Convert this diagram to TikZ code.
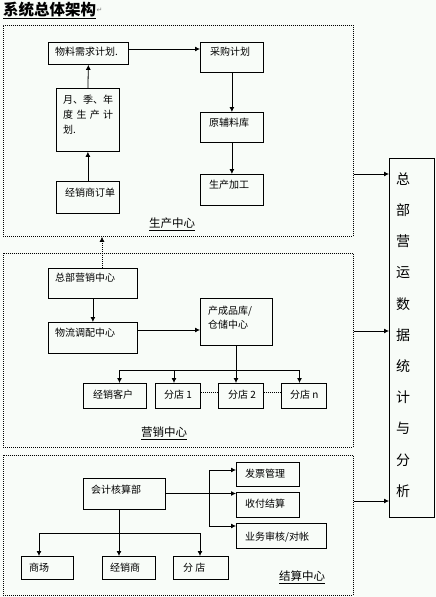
\documentclass[tikz,border=0pt]{standalone}
\usepackage{fontspec}
\setmainfont{Noto Sans CJK SC}
\newfontfamily\dejavu{DejaVu Sans}
\usetikzlibrary{arrows.meta}
\definecolor{bg}{RGB}{248,252,248}
\newcommand\bx[8]{%
  \node[box, minimum width={#4-#2}, minimum height={#5-#3}] (#1) at (#2,#3) {};
  \node[txt] (#1t) at ([xshift=#6pt,yshift=-#7pt]#1.north west) {#8};}
\begin{document}
\begin{tikzpicture}[x=1pt,y=-1pt,
  box/.style={draw, line width=0.8pt, inner sep=0pt, anchor=north west},
  sec/.style={draw, dash pattern=on 1pt off 1pt, line width=0.8pt, inner sep=0pt, anchor=north west},
  txt/.style={font=\fontsize{10}{14}\selectfont, inner sep=0pt, anchor=west},
  lbl/.style={font=\fontsize{11.5}{14}\selectfont, inner sep=0pt},
  arr/.style={-{Latex[length=5pt,width=5pt]}, line width=0.8pt},
  ln/.style={line width=0.8pt},
  dot/.style={dash pattern=on 1pt off 1pt, line width=0.8pt}]
\fill[bg] (0,0) rectangle (436,597);
\useasboundingbox (0,0) rectangle (436,597);

% title
\node[inner sep=0pt, anchor=west, font=\fontsize{15.5}{18}\selectfont\bfseries] (title) at (3,10.5) {\underline{系统总体架构}};
\node[inner sep=0pt, anchor=west, font=\dejavu\fontsize{7}{8}\selectfont, text=gray] (pm) at (title.east) {↵};

% sections
\node[sec, minimum width=350, minimum height=211] (sec1) at (3,25) {};
\node[sec, minimum width=350, minimum height=194] (sec2) at (3,253) {};
\node[sec, minimum width=350, minimum height=140] (sec3) at (3,455) {};

% section 1
\bx{wl}{48}{42}{128}{64}{7}{10}{物料需求计划.}
\bx{cg}{200}{42}{263}{72}{10}{10}{采购计划}
\bx{yf}{200}{112}{263}{142}{9}{11}{原辅料库}
\bx{sc}{200}{174}{263}{205}{9}{11}{生产加工}
\node[box, minimum width=63, minimum height=63] (jh) at (56,88) {};
\node[txt, align=left, font=\fontsize{10}{15}\selectfont] (jht) at (63,115) {月、季、年\\\makebox[50pt][l]{度\hfill 生\hfill 产\hfill 计}\\划.};
\bx{dd}{56}{181}{119}{213}{9}{12}{经销商订单}
\node[lbl] (l1) at (172,224) {\underline{生产中心}};

\draw[arr] (dd.north) -- (jh.south);
\draw[arr] (jh.north) -- (wl.south);
\coordinate (y49) at (0,49);
\draw[arr] (wl.east |- y49) -- (cg.west |- y49);
\draw[arr] (cg.south) -- (yf.north);
\draw[arr] (yf.south) -- (sc.north);

% section 2
\bx{zb}{48}{268}{137}{298}{7}{10}{总部营销中心}
\bx{wd}{48}{322}{137}{353}{7}{11}{物流调配中心}
\node[box, minimum width=72, minimum height=47] (cp) at (200,298) {};
\node[txt, align=left, font=\fontsize{10}{14}\selectfont] (cpt) at (208,318) {产成品库/\\仓储中心};
\bx{jk}{83}{383}{146}{408}{10}{12}{经销客户}
\bx{f1}{155}{383}{200}{408}{9}{12}{分店 1}
\bx{f2}{218}{383}{263}{408}{10}{12}{分店 2}
\bx{fn}{281}{383}{326}{408}{9}{12}{分店 n}
\node[lbl] (l2) at (164,433) {\underline{营销中心}};

\draw[arr] (zb.south) -- (wd.north);
\coordinate (y330) at (0,330);
\draw[arr] (wd.east |- y330) -- (cp.west |- y330);
\coordinate (a1) at (119.5,370);
\coordinate (a2) at (174,370);
\coordinate (a3) at (236,370);
\coordinate (a4) at (299.5,370);
\draw[ln] (cp.south -| a3) -- (a3);
\draw[ln] (a1) -- (a4);
\draw[arr] (a1) -- (a1 |- jk.north);
\draw[arr] (a2) -- (a2 |- f1.north);
\draw[arr] (a3) -- (a3 |- f2.north);
\draw[arr] (a4) -- (a4 |- fn.north);
\coordinate (y392) at (0,392);
\draw[dot] (f1.east |- y392) -- (f2.west |- y392);
\draw[dot] (f2.east |- y392) -- (fn.west |- y392);

% dotted arrow up
\coordinate (dx) at (102,0);
\draw[arr, dot] (zb.north -| dx) -- (sec1.south -| dx);

% section 3
\bx{kj}{83}{478}{165}{509}{8}{12}{会计核算部}
\bx{fp}{236}{462}{299}{486}{9}{12}{发票管理}
\bx{sf}{236}{492}{299}{517}{9}{12}{收付结算}
\bx{yw}{236}{523}{326}{548}{9}{14}{业务审核/对帐}
\bx{shc}{21}{556}{73}{579}{8}{12}{商场}
\bx{jx}{102}{556}{155}{579}{8}{12}{经销商}
\bx{fd}{173}{556}{228}{579}{10}{12}{分\ 店}
\node[lbl] (l3) at (302,577) {\underline{结算中心}};

\coordinate (b1) at (209,470);
\coordinate (b2) at (209,526);
\coordinate (y493) at (0,493.5);
\draw[arr] (kj.east |- y493) -- (sf.west |- y493);
\draw[ln] (b1) -- (b2);
\draw[arr] (b1) -- (fp.west |- b1);
\draw[arr] (b2) -- (yw.west |- b2);
\coordinate (c1) at (39,533);
\coordinate (c2) at (119,533);
\coordinate (c3) at (200,533);
\draw[ln] (kj.south -| c2) -- (c2);
\draw[ln] (c1) -- (c3);
\draw[arr] (c1) -- (c1 |- shc.north);
\draw[arr] (c2) -- (c2 |- jx.north);
\draw[arr] (c3) -- (c3 |- fd.north);

% right box
\node[box, minimum width=45, minimum height=359] (zy) at (389,158) {};
\node[inner sep=0pt, align=center, font=\fontsize{14}{31.2}\selectfont] (zyt) at (403,335) {总\\部\\营\\运\\数\\据\\统\\计\\与\\分\\析};
\coordinate (r1) at (0,174);
\coordinate (r2) at (0,331);
\coordinate (r3) at (0,501);
\draw[arr] (sec1.east |- r1) -- (zy.west |- r1);
\draw[arr] (sec2.east |- r2) -- (zy.west |- r2);
\draw[arr] (sec3.east |- r3) -- (zy.west |- r3);
\end{tikzpicture}
\end{document}
